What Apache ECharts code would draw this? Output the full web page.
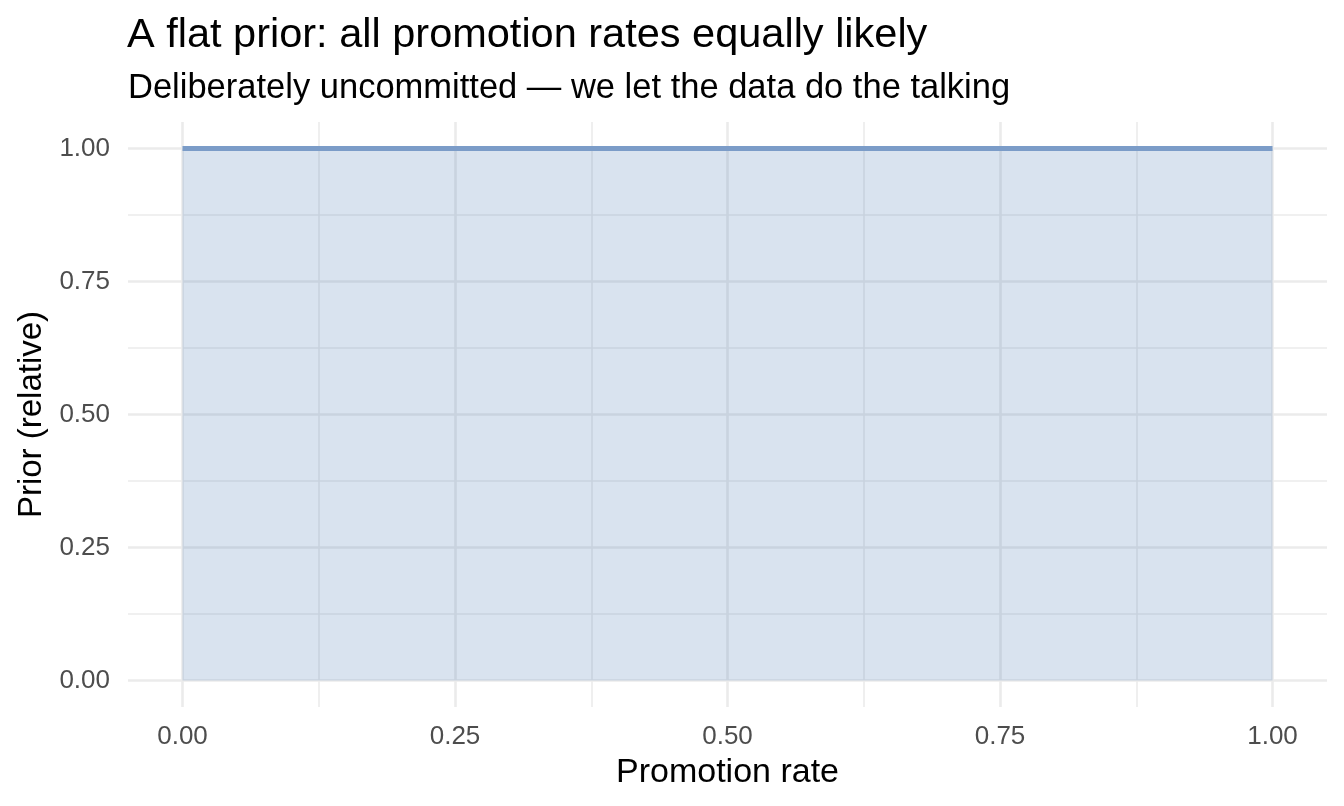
<!DOCTYPE html>
<html>
<head>
<meta charset="utf-8">
<script src="https://cdn.jsdelivr.net/npm/echarts@6/dist/echarts.min.js"></script>
<style>
  html, body { margin: 0; padding: 0; background: #fff; }
  #chart { width: 1344px; height: 806px; }
</style>
</head>
<body>
<div id="chart"></div>
<script>
// flat prior: density is 1 everywhere on [0, 1]
let rateX = [0, 1];
let priorY = [1, 1];
let majorTicks = [0, 0.25, 0.5, 0.75, 1];
let minorTicks = [0.125, 0.375, 0.625, 0.875];

let font = '"Liberation Sans", Arial, Helvetica, sans-serif';
let majorGrid = { show: true, lineStyle: { color: '#ebebeb', width: 2.6 } };
let minorGrid = { show: true, lineStyle: { color: '#ebebeb', width: 1.6 } };

function fmt(v) {
  return Number(v).toFixed(2);
}

let chart = echarts.init(document.getElementById('chart'), null, { renderer: 'canvas' });

let option = {
  backgroundColor: '#ffffff',
  animation: false,
  title: [{
    text: 'A flat prior: all promotion rates equally likely',
    left: 122,
    top: 10,
    textStyle: { fontFamily: font, fontSize: 41.5, fontWeight: 'normal', color: '#000' }
  }, {
    text: 'Deliberately uncommitted \u2014 we let the data do the talking',
    left: 123,
    top: 66,
    textStyle: { fontFamily: font, fontSize: 34.5, fontWeight: 'normal', color: '#000' }
  }],
  grid: {
    left: 128,
    right: 17,
    top: 122,
    bottom: 99,
    containLabel: false
  },
  xAxis: [{
    type: 'value',
    min: -0.05,
    max: 1.05,
    name: 'Promotion rate',
    nameLocation: 'middle',
    nameGap: 49,
    nameTextStyle: { fontFamily: font, fontSize: 34, color: '#000' },
    axisLine: { show: false },
    axisTick: { show: false, customValues: majorTicks },
    axisLabel: {
      customValues: majorTicks,
      formatter: fmt,
      margin: 17,
      fontFamily: font,
      fontSize: 26,
      color: '#4d4d4d'
    },
    splitLine: majorGrid
  }, {
    type: 'value',
    min: -0.05,
    max: 1.05,
    position: 'top',
    axisLine: { show: false },
    axisTick: { show: false, customValues: minorTicks },
    axisLabel: { show: false, customValues: minorTicks },
    splitLine: minorGrid
  }],
  yAxis: [{
    type: 'value',
    min: -0.05,
    max: 1.05,
    name: 'Prior (relative)',
    nameLocation: 'middle',
    nameGap: 79,
    nameRotate: 90,
    nameTextStyle: { fontFamily: font, fontSize: 33, color: '#000' },
    axisLine: { show: false },
    axisTick: { show: false, customValues: majorTicks },
    axisLabel: {
      customValues: majorTicks,
      formatter: fmt,
      margin: 18,
      fontFamily: font,
      fontSize: 26,
      color: '#4d4d4d'
    },
    splitLine: majorGrid
  }, {
    type: 'value',
    min: -0.05,
    max: 1.05,
    position: 'right',
    axisLine: { show: false },
    axisTick: { show: false, customValues: minorTicks },
    axisLabel: { show: false, customValues: minorTicks },
    splitLine: minorGrid
  }],
  series: [{
    type: 'line',
    data: rateX.map((x, i) => [x, priorY[i]]),
    showSymbol: false,
    silent: true,
    lineStyle: { color: '#7b9cc8', width: 5 },
    areaStyle: { color: 'rgba(66,114,176,0.2)', opacity: 1, origin: 'auto' }
  }]
};

chart.setOption(option);
</script>
</body>
</html>
